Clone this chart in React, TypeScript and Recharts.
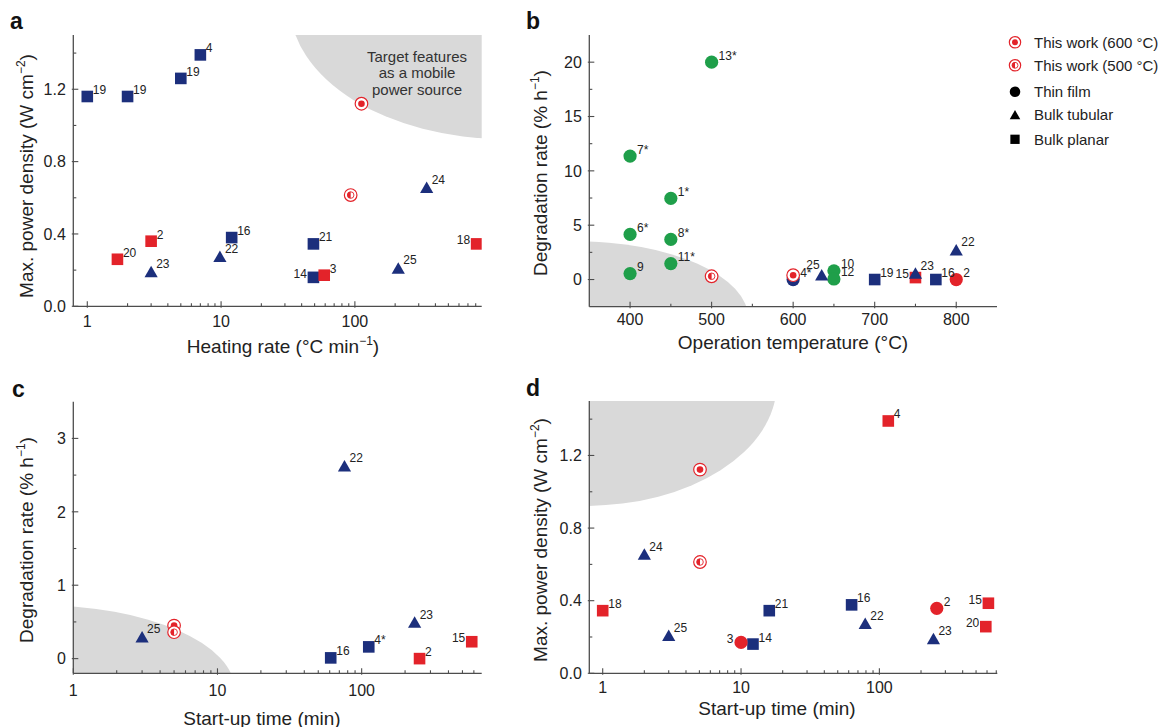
import React from "react";
import { ScatterChart, Scatter, XAxis, YAxis, ReferenceArea } from "recharts";

type Pt = { x: number; y: number; label?: string };
type Kind = "square" | "triangle" | "circle" | "w600" | "w500";

const NAVY = "#1c2f7c";
const RED = "#e3232a";
const GREEN = "#1f9f4a";
const SHADE = "#d9d9d9";
const FRAME = "#4d4d4d";
const INK = "#222";
const FONT = "'Liberation Sans', Arial, Helvetica, sans-serif";

// ---- a: heating rate vs max. power density
const aPlanarBlue: Pt[] = [
  { x: 1, y: 1.16, label: "19" },
  { x: 2, y: 1.16, label: "19" },
  { x: 5, y: 1.26, label: "19" },
  { x: 7, y: 1.39, label: "4" },
  { x: 12, y: 0.38, label: "16" },
  { x: 49, y: 0.345, label: "21" },
  { x: 49, y: 0.16, label: "14" },
];
const aPlanarRed: Pt[] = [
  { x: 1.68, y: 0.26, label: "20" },
  { x: 3, y: 0.36, label: "2" },
  { x: 59, y: 0.172, label: "3" },
  { x: 813, y: 0.345, label: "18" },
];
const aTubular: Pt[] = [
  { x: 3, y: 0.19, label: "23" },
  { x: 9.8, y: 0.273, label: "22" },
  { x: 211, y: 0.209, label: "25" },
  { x: 344, y: 0.655, label: "24" },
];
const aWork600: Pt[] = [{ x: 112, y: 1.12 }];
const aWork500: Pt[] = [{ x: 93, y: 0.615 }];

// ---- b: operation temperature vs degradation rate
const bFilmGreen: Pt[] = [
  { x: 500, y: 20, label: "13*" },
  { x: 400, y: 11.36, label: "7*" },
  { x: 450, y: 7.46, label: "1*" },
  { x: 400, y: 4.15, label: "6*" },
  { x: 450, y: 3.69, label: "8*" },
  { x: 450, y: 1.47, label: "11*" },
  { x: 400, y: 0.55, label: "9" },
  { x: 650, y: 0.8, label: "10" },
  { x: 650, y: 0.05, label: "12" },
];
const bFilmBlue: Pt[] = [{ x: 600, y: 0, label: "4*" }];
const bFilmRed: Pt[] = [{ x: 800, y: 0, label: "2" }];
const bPlanarRed: Pt[] = [{ x: 750, y: 0.18, label: "15" }];
const bPlanarBlue: Pt[] = [
  { x: 700, y: 0, label: "19" },
  { x: 775, y: 0, label: "16" },
];
const bTubular: Pt[] = [
  { x: 635, y: 0.4, label: "25" },
  { x: 750, y: 0.55, label: "23" },
  { x: 800, y: 2.7, label: "22" },
];
const bWork600: Pt[] = [{ x: 600, y: 0.4 }];
const bWork500: Pt[] = [{ x: 500, y: 0.3 }];

// ---- c: start-up time vs degradation rate
const cTubular: Pt[] = [
  { x: 3, y: 0.29, label: "25" },
  { x: 76, y: 2.62, label: "22" },
  { x: 233, y: 0.49, label: "23" },
];
const cPlanarBlue: Pt[] = [
  { x: 61, y: 0.01, label: "16" },
  { x: 112, y: 0.16, label: "4*" },
];
const cPlanarRed: Pt[] = [
  { x: 252, y: 0, label: "2" },
  { x: 580, y: 0.23, label: "15" },
];
const cWork600: Pt[] = [{ x: 5, y: 0.45 }];
const cWork500: Pt[] = [{ x: 5, y: 0.36 }];

// ---- d: start-up time vs max. power density
const dPlanarRed: Pt[] = [
  { x: 1, y: 0.345, label: "18" },
  { x: 116, y: 1.39, label: "4" },
  { x: 614, y: 0.386, label: "15" },
  { x: 588, y: 0.257, label: "20" },
];
const dTubular: Pt[] = [
  { x: 2, y: 0.654, label: "24" },
  { x: 3, y: 0.207, label: "25" },
  { x: 79, y: 0.272, label: "22" },
  { x: 246, y: 0.189, label: "23" },
];
const dPlanarBlue: Pt[] = [
  { x: 16, y: 0.345, label: "21" },
  { x: 12.2, y: 0.161, label: "14" },
  { x: 63, y: 0.377, label: "16" },
];
const dFilmRed: Pt[] = [
  { x: 10, y: 0.17, label: "3" },
  { x: 260, y: 0.358, label: "2" },
];
const dWork600: Pt[] = [{ x: 5.05, y: 1.122 }];
const dWork500: Pt[] = [{ x: 5.05, y: 0.613 }];

// ---- ticks
const logMajor = [1, 10, 100];
const aXTicks = [1, 2, 3, 4, 5, 6, 7, 8, 9, 10, 20, 30, 40, 50, 60, 70, 80, 90, 100, 200, 300, 400, 500, 600, 700, 800];
const cXTicks = [1, 2, 3, 4, 5, 6, 7, 8, 9, 10, 20, 30, 40, 50, 60, 70, 80, 90, 100, 200, 300, 400, 500, 600];
const dXTicks = [1, 2, 3, 4, 5, 6, 7, 8, 9, 10, 20, 30, 40, 50, 60, 70, 80, 90, 100, 200, 300, 400, 500, 600, 700];
const powerTicks = [0, 0.2, 0.4, 0.6, 0.8, 1.0, 1.2, 1.4];
const powerMajor = [0, 0.4, 0.8, 1.2];
const tempTicks = [400, 450, 500, 550, 600, 650, 700, 750, 800];
const tempMajor = [400, 500, 600, 700, 800];
const bDegTicks = [0, 2.5, 5, 7.5, 10, 12.5, 15, 17.5, 20];
const bDegMajor = [0, 5, 10, 15, 20];
const cDegTicks = [0, 0.5, 1, 1.5, 2, 2.5, 3];
const cDegMajor = [0, 1, 2, 3];

const legendLabels = ["This work (600 °C)", "This work (500 °C)", "Thin film", "Bulk tubular", "Bulk planar"];
const targetLines = ["Target features", "as a mobile", "power source"];

type Series = { data: Pt[]; kind: Kind; color: string };
type Cfg = {
  box: { left: number; top: number; width: number; height: number };
  plot: { x0: number; x1: number; y0: number; y1: number };
  xLog: boolean;
  xDomain: [number, number];
  yDomain: [number, number];
  xTicks: number[];
  xMajor: number[];
  yTicks: number[];
  yMajor: number[];
  yFmt: (v: number) => string;
  xGap: number;
  region: { x1: number; x2: number; y1: number; y2: number };
  series: Series[];
  left: string[];
  upLeft: string[];
};

function Glyph({ kind, cx, cy, color, s = 1 }: { kind: Kind; cx: number; cy: number; color: string; s?: number }) {
  if (kind === "square") {
    const h = 5.8 * s;
    return <rect x={cx - h} y={cy - h} width={2 * h} height={2 * h} fill={color} />;
  }
  if (kind === "triangle") {
    const w = 6.6 * s, t = 6.3 * s, b = 5.2 * s;
    return <polygon points={`${cx},${cy - t} ${cx + w},${cy + b} ${cx - w},${cy + b}`} fill={color} />;
  }
  if (kind === "circle") return <circle cx={cx} cy={cy} r={6.6 * s} fill={color} />;
  const r = 3.3 * s;
  return (
    <g>
      <circle cx={cx} cy={cy} r={6.3 * s} fill="#fff" stroke={RED} strokeWidth={1.2} />
      {kind === "w600" ? (
        <circle cx={cx} cy={cy} r={r} fill={RED} />
      ) : (
        <g>
          <circle cx={cx} cy={cy} r={r} fill="#fff" stroke={RED} strokeWidth={0.9} />
          <path d={`M${cx},${cy - r}A${r},${r} 0 0 0 ${cx},${cy + r}Z`} fill={RED} />
        </g>
      )}
    </g>
  );
}

function PointMark(props: any) {
  const { cx, cy, payload, kind, color, left, upLeft } = props;
  if (cx == null || cy == null) return null;
  const label: string | undefined = payload?.label;
  let tx = cx + (kind === "circle" ? 7 : kind === "triangle" ? 5 : 5.5);
  let ty = cy - (kind === "triangle" ? 4 : 2.5);
  let anchor = "start";
  if (label && upLeft.includes(label)) {
    tx = cx - 2;
    ty = cy - 6;
    anchor = "end";
  } else if (label && left.includes(label)) {
    tx = cx - (kind === "circle" ? 7.5 : 6.5);
    ty = cy + 0.5;
    anchor = "end";
  }
  return (
    <g>
      <Glyph kind={kind} cx={cx} cy={cy} color={color} />
      {label && (
        <text x={tx} y={ty} textAnchor={anchor} fontSize={12} fill={INK} fontFamily={FONT}>
          {label}
        </text>
      )}
    </g>
  );
}

const ellipseShape = (p: any) => (
  <ellipse
    cx={p.x + p.width / 2}
    cy={p.y + p.height / 2}
    rx={Math.abs(p.width) / 2}
    ry={Math.abs(p.height) / 2}
    fill={SHADE}
    clipPath={p.clipPath}
  />
);

const has = (list: number[], v: number) => list.some((m) => Math.abs(m - v) < 1e-9);

function Panel({ cfg }: { cfg: Cfg }) {
  const { box, plot } = cfg;
  const margin = { top: plot.y0 - box.top, right: box.left + box.width - plot.x1, left: 0, bottom: 0 };
  const yW = plot.x0 - box.left;
  const xH = box.top + box.height - plot.y1;
  const line = { stroke: FRAME, strokeWidth: 1.1 };
  const txt = { fontSize: 16, fill: INK, fontFamily: FONT };

  const bottomTick = (p: any) => {
    const v = p.payload.value;
    const major = has(cfg.xMajor, v);
    return (
      <g>
        <line x1={p.x} x2={p.x} y1={p.y + (major ? 1.5 : 0)} y2={p.y - (major ? 5 : 3)} {...line} />
        {major && (
          <text x={p.x} y={p.y + cfg.xGap} dy="0.72em" textAnchor="middle" {...txt}>
            {String(v)}
          </text>
        )}
      </g>
    );
  };
  const topTick = (p: any) => {
    const major = has(cfg.xMajor, p.payload.value);
    return <line x1={p.x} x2={p.x} y1={p.y - (major ? 1.5 : 0)} y2={p.y + (major ? 5 : 3)} {...line} />;
  };
  const leftTick = (p: any) => {
    const v = p.payload.value;
    const major = has(cfg.yMajor, v);
    return (
      <g>
        <line x1={p.x - (major ? 1.5 : 0)} x2={p.x + (major ? 5 : 3)} y1={p.y} y2={p.y} {...line} />
        {major && (
          <text x={p.x - 7.5} y={p.y} dy="0.36em" textAnchor="end" {...txt}>
            {cfg.yFmt(v)}
          </text>
        )}
      </g>
    );
  };
  const rightTick = (p: any) => {
    const major = has(cfg.yMajor, p.payload.value);
    return <line x1={p.x + (major ? 1.5 : 0)} x2={p.x - (major ? 5 : 3)} y1={p.y} y2={p.y} {...line} />;
  };
  const axisLine = { stroke: FRAME, strokeWidth: 1.3 };
  const scale = cfg.xLog ? "log" : "linear";

  return (
    <div style={{ position: "absolute", left: box.left, top: box.top }}>
      <ScatterChart width={box.width} height={box.height} margin={margin}>
        <XAxis
          xAxisId="x"
          type="number"
          dataKey="x"
          scale={scale}
          domain={cfg.xDomain}
          allowDataOverflow
          ticks={cfg.xTicks}
          interval={0}
          tickSize={0}
          tickMargin={0}
          tickLine={false}
          tick={bottomTick}
          axisLine={axisLine}
          height={xH}
        />
        <XAxis
          xAxisId="xt"
          orientation="top"
          type="number"
          dataKey="x"
          scale={scale}
          domain={cfg.xDomain}
          allowDataOverflow
          ticks={cfg.xTicks}
          interval={0}
          tickSize={0}
          tickMargin={0}
          tickLine={false}
          tick={topTick}
          axisLine={axisLine}
          height={0}
        />
        <YAxis
          yAxisId="y"
          type="number"
          dataKey="y"
          domain={cfg.yDomain}
          allowDataOverflow
          ticks={cfg.yTicks}
          interval={0}
          tickSize={0}
          tickMargin={0}
          tickLine={false}
          tick={leftTick}
          axisLine={axisLine}
          width={yW}
        />
        <YAxis
          yAxisId="yr"
          orientation="right"
          type="number"
          dataKey="y"
          domain={cfg.yDomain}
          allowDataOverflow
          ticks={cfg.yTicks}
          interval={0}
          tickSize={0}
          tickMargin={0}
          tickLine={false}
          tick={rightTick}
          axisLine={axisLine}
          width={0}
        />
        <ReferenceArea
          xAxisId="x"
          yAxisId="y"
          x1={cfg.region.x1}
          x2={cfg.region.x2}
          y1={cfg.region.y1}
          y2={cfg.region.y2}
          ifOverflow="hidden"
          shape={ellipseShape}
        />
        {cfg.series.map((s, i) => (
          <Scatter
            key={i}
            xAxisId="x"
            yAxisId="y"
            data={s.data}
            isAnimationActive={false}
            shape={(p: any) => (
              <PointMark {...p} kind={s.kind} color={s.color} left={cfg.left} upLeft={cfg.upLeft} />
            )}
          />
        ))}
      </ScatterChart>
    </div>
  );
}

const fmt1 = (v: number) => v.toFixed(1);
const fmt0 = (v: number) => String(v);

const panels: Cfg[] = [
  {
    box: { left: 0, top: 0, width: 500, height: 360 },
    plot: { x0: 73.3, x1: 481.7, y0: 35, y1: 306.3 },
    xLog: true,
    xDomain: [0.786, 887],
    yDomain: [0, 1.5],
    xTicks: aXTicks,
    xMajor: logMajor,
    yTicks: powerTicks,
    yMajor: powerMajor,
    yFmt: fmt1,
    xGap: 9,
    region: { x1: 32.7, x2: 53500, y1: 0.925, y2: 2.41 },
    series: [
      { data: aPlanarBlue, kind: "square", color: NAVY },
      { data: aPlanarRed, kind: "square", color: RED },
      { data: aTubular, kind: "triangle", color: NAVY },
      { data: aWork500, kind: "w500", color: RED },
      { data: aWork600, kind: "w600", color: RED },
    ],
    left: ["14", "18"],
    upLeft: [],
  },
  {
    box: { left: 500, top: 0, width: 500, height: 360 },
    plot: { x0: 589.3, x1: 997, y0: 35, y1: 306.7 },
    xLog: false,
    xDomain: [350, 850],
    yDomain: [-2.5, 22.5],
    xTicks: tempTicks,
    xMajor: tempMajor,
    yTicks: bDegTicks,
    yMajor: bDegMajor,
    yFmt: fmt0,
    xGap: 7,
    region: { x1: 119.9, x2: 545, y1: -10.66, y2: 3.53 },
    series: [
      { data: bFilmGreen, kind: "circle", color: GREEN },
      { data: bFilmBlue, kind: "circle", color: NAVY },
      { data: bFilmRed, kind: "circle", color: RED },
      { data: bPlanarRed, kind: "square", color: RED },
      { data: bPlanarBlue, kind: "square", color: NAVY },
      { data: bTubular, kind: "triangle", color: NAVY },
      { data: bWork500, kind: "w500", color: RED },
      { data: bWork600, kind: "w600", color: RED },
    ],
    left: ["15"],
    upLeft: ["25"],
  },
  {
    box: { left: 0, top: 365, width: 500, height: 362 },
    plot: { x0: 73.3, x1: 481.7, y0: 401.7, y1: 673.3 },
    xLog: true,
    xDomain: [1, 680],
    yDomain: [-0.2, 3.5],
    xTicks: cXTicks,
    xMajor: logMajor,
    yTicks: cDegTicks,
    yMajor: cDegMajor,
    yFmt: fmt0,
    xGap: 11,
    region: { x1: 0.0261, x2: 13.2, y1: -1.59, y2: 0.726 },
    series: [
      { data: cTubular, kind: "triangle", color: NAVY },
      { data: cPlanarBlue, kind: "square", color: NAVY },
      { data: cPlanarRed, kind: "square", color: RED },
      { data: cWork600, kind: "w600", color: RED },
      { data: cWork500, kind: "w500", color: RED },
    ],
    left: ["15"],
    upLeft: [],
  },
  {
    box: { left: 500, top: 365, width: 500, height: 362 },
    plot: { x0: 589.3, x1: 997.3, y0: 401, y1: 673.3 },
    xLog: true,
    xDomain: [0.8, 712],
    yDomain: [0, 1.5],
    xTicks: dXTicks,
    xMajor: logMajor,
    yTicks: powerTicks,
    yMajor: powerMajor,
    yFmt: fmt1,
    xGap: 8.5,
    region: { x1: 0.0306, x2: 18.1, y1: 0.922, y2: 2.265 },
    series: [
      { data: dPlanarRed, kind: "square", color: RED },
      { data: dTubular, kind: "triangle", color: NAVY },
      { data: dPlanarBlue, kind: "square", color: NAVY },
      { data: dFilmRed, kind: "circle", color: RED },
      { data: dWork600, kind: "w600", color: RED },
      { data: dWork500, kind: "w500", color: RED },
    ],
    left: ["3", "15", "20"],
    upLeft: [],
  },
];

const legendKinds: Kind[] = ["w600", "w500", "circle", "triangle", "square"];
const legendRows = [42.3, 65.3, 91.7, 115, 139.3];

function Sup({ children }: { children: string }) {
  return (
    <>
      <tspan dy={-8} fontSize={12}>
        {children}
      </tspan>
      <tspan dy={8}>)</tspan>
    </>
  );
}

function Overlay() {
  const t = { fontSize: 19, fill: INK, fontFamily: FONT };
  return (
    <svg
      width={1160}
      height={727}
      style={{ position: "absolute", left: 0, top: 0, pointerEvents: "none" }}
    >
      {[
        ["a", 10, 29],
        ["b", 526, 29],
        ["c", 12, 397],
        ["d", 526, 396],
      ].map(([l, x, y]) => (
        <text key={l as string} x={x as number} y={y as number} fontSize={23} fontWeight="bold" fill="#111" fontFamily={FONT}>
          {l}
        </text>
      ))}

      <text x={283} y={352.5} textAnchor="middle" {...t}>
        Heating rate (°C min<Sup>−1</Sup>
      </text>
      <text transform="translate(33,176) rotate(-90)" textAnchor="middle" {...t}>
        Max. power density (W cm<Sup>−2</Sup>
      </text>

      <text x={793} y={348.5} textAnchor="middle" {...t}>
        Operation temperature (°C)
      </text>
      <text transform="translate(546.5,173) rotate(-90)" textAnchor="middle" {...t}>
        Degradation rate (% h<Sup>−1</Sup>
      </text>

      <text x={262} y={725} textAnchor="middle" {...t}>
        Start-up time (min)
      </text>
      <text transform="translate(33,540) rotate(-90)" textAnchor="middle" {...t}>
        Degradation rate (% h<Sup>−1</Sup>
      </text>

      <text x={777} y={715} textAnchor="middle" {...t}>
        Start-up time (min)
      </text>
      <text transform="translate(546.5,540) rotate(-90)" textAnchor="middle" {...t}>
        Max. power density (W cm<Sup>−2</Sup>
      </text>

      {targetLines.map((s, i) => (
        <text key={s} x={417} y={61.5 + i * 16.8} textAnchor="middle" fontSize={15} fill="#333" fontFamily={FONT}>
          {s}
        </text>
      ))}

      {legendLabels.map((s, i) => {
        const k = legendKinds[i];
        const red = k === "w600" || k === "w500";
        return (
          <g key={s}>
            <Glyph kind={k} cx={1015} cy={legendRows[i]} color={red ? RED : "#000"} s={red ? 0.9 : 0.8} />
            <text x={1034} y={legendRows[i] + 5.3} fontSize={15} fill={INK} fontFamily={FONT}>
              {s}
            </text>
          </g>
        );
      })}
    </svg>
  );
}

export default function App() {
  return (
    <div
      style={{
        position: "absolute",
        left: 0,
        top: 0,
        width: 1160,
        height: 727,
        background: "#fff",
        overflow: "hidden",
      }}
    >
      {panels.map((cfg, i) => (
        <Panel key={i} cfg={cfg} />
      ))}
      <Overlay />
    </div>
  );
}
